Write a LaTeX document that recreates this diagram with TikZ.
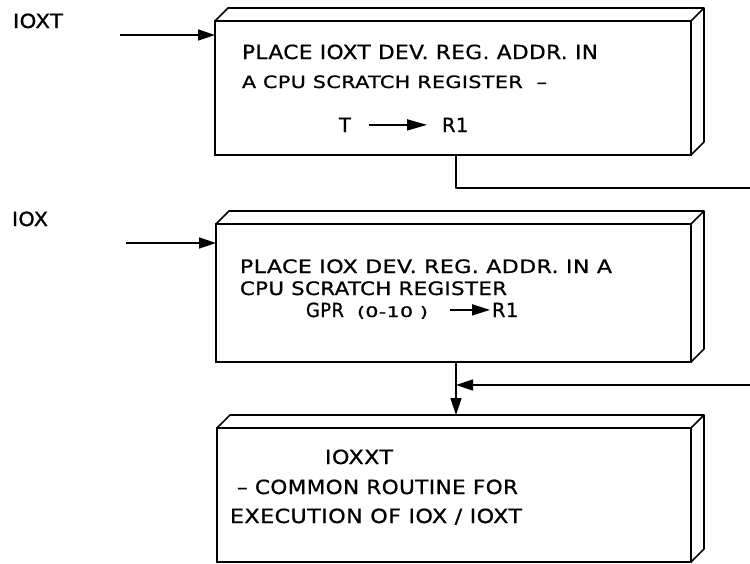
\documentclass[tikz,border=0pt]{standalone}
\usepackage{fontspec}
\setmainfont[LetterSpace=2,FakeBold=0.8]{DejaVu Sans}
\usetikzlibrary{arrows.meta}
\newcommand\fitto[2]{\resizebox{#1}{\height}{#2}}
\begin{document}
\begin{tikzpicture}[x=1pt,y=-1pt,
  ln/.style={line width=1.6pt, line join=round},
  tip/.style={-{Triangle[length=17pt,width=11pt]}},
  face/.style={draw, line width=1.6pt, inner sep=0pt, outer sep=0pt, anchor=north west},
  txt/.style={anchor=base west, inner sep=0pt, outer sep=0pt},
  fa/.style={font=\fontsize{19.5}{21}\selectfont},
  fb/.style={font=\fontsize{18.5}{20}\selectfont},
  fc/.style={font=\fontsize{17}{19}\selectfont},
  fd/.style={font=\fontsize{14.5}{16}\selectfont},
  fe/.style={font=\fontsize{19.5}{21}\selectfont}]
\useasboundingbox (0,0) rectangle (750,563);

% boxes
\node[face, minimum width=476pt, minimum height=134pt] (b1) at (215,21) {};
\node[face, minimum width=475pt, minimum height=138pt] (b2) at (216,224) {};
\node[face, minimum width=474pt, minimum height=134pt] (b3) at (217,428) {};
\foreach \b in {b1,b2,b3}{
  \draw[ln] (\b.north west) -- ++(13,-13) -- ([shift={(13pt,13pt)}]\b.north east)
            -- ([shift={(13pt,13pt)}]\b.south east) -- (\b.south east);
  \draw[ln] (\b.north east) -- ++(13,-13);
}

% entry labels and arrows
\node[txt,fa] (l1) at (13,28) {\fitto{50pt}{IOXT}};
\node[txt,fa] (l2) at (12,226) {\fitto{36pt}{IOX}};
\coordinate (s1) at (120,35);
\coordinate (s2) at (126,243);
\draw[ln,tip] (s1) -- (s1 -| b1.west);
\draw[ln,tip] (s2) -- (s2 -| b2.west);

% box 1 text
\node[txt,fa] (a1) at (242,59) {\fitto{356pt}{PLACE IOXT DEV. REG. ADDR. IN}};
\node[txt,fc] (a2) at (242,88) {\fitto{305pt}{A CPU SCRATCH REGISTER~~–}};
\node[txt,fa] (aT) at (339,132) {T};
\node[txt,fa] (aR) at (442,132) {R1};
\draw[ln,-{Triangle[length=20pt,width=11pt]}, shorten <=18pt, shorten >=15pt] (aT.east |- aR.west) -- (aR.west);

% box 2 text
\node[txt,fb] (c1) at (240,273) {\fitto{372pt}{PLACE IOX DEV. REG. ADDR. IN A}};
\node[txt,fb] (c2) at (240,295) {\fitto{267pt}{CPU SCRATCH REGISTER}};
\node[txt,fa] (cG) at (306,317) {\fitto{38pt}{GPR}};
\node[txt,fd] (cN) at (357,317) {\fitto{71pt}{(0-10 )}};
\node[txt,fa] (cR) at (492,317) {R1};
\draw[ln,-{Triangle[length=18pt,width=11pt]}, shorten <=22pt, shorten >=2pt] (cN.east |- cR.west) -- (cR.west);

% box 3 text
\node[txt,fe] (d1) at (325,464) {\fitto{68pt}{IOXXT}};
\node[txt,fe] (d2) at (237,494) {\fitto{281pt}{– COMMON ROUTINE FOR}};
\node[txt,fe] (d3) at (230,523) {\fitto{292pt}{EXECUTION OF IOX / IOXT}};

% connectors on the right
\coordinate (j1) at (456,188);
\coordinate (r1) at (750,188);
\coordinate (j2) at (456,385);
\coordinate (r2) at (750,385);
\coordinate (b3t) at ([yshift=13pt]b3.north);
\draw[ln] (j1 |- b1.south) -- (j1) -- (r1);
\draw[ln,tip] (r2) -- (j2);
\draw[ln,tip] (j2 |- b2.south) -- (j2 |- b3t);
\end{tikzpicture}
\end{document}
